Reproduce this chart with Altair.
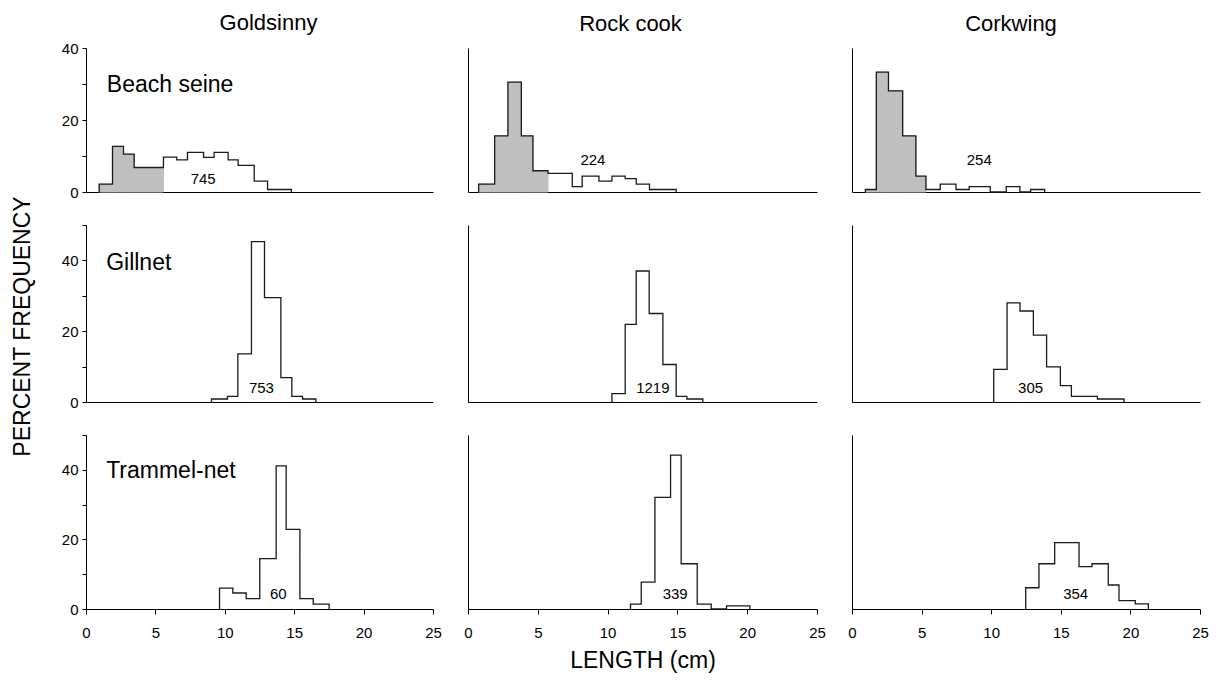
import altair as alt
import pandas as pd

species = ["Goldsinny", "Rock cook", "Corkwing"]
gears = ["Beach seine", "Gillnet", "Trammel-net"]

# ---- bin edges (cm) and percent frequency ----
gs_beach_edges = [0.95, 1.91, 2.70, 3.47, 5.58, 6.54, 7.31, 8.47, 9.23, 10.24, 10.96, 12.12, 13.08, 14.04, 14.80]
gs_beach_pct = [2.2, 12.7, 10.5, 6.8, 9.7, 8.9, 11.0, 9.6, 11.0, 8.9, 7.4, 3.0, 0.7, 0.7]
rc_beach_edges = [0.76, 1.91, 2.86, 3.82, 4.65, 5.73, 6.49, 7.47, 8.18, 9.38, 10.31, 11.26, 12.05, 13.00, 13.96, 14.91]
rc_beach_pct = [2.2, 15.6, 30.5, 15.6, 5.9, 5.2, 5.2, 1.5, 4.4, 3.0, 4.4, 3.7, 2.2, 0.7, 0.7]
cw_beach_edges = [0.96, 1.75, 2.62, 3.64, 4.59, 5.31, 6.34, 7.47, 8.42, 9.93, 11.08, 12.06, 12.83, 13.84]
cw_beach_pct = [0.7, 33.3, 28.1, 15.6, 4.4, 0.7, 2.2, 0.7, 1.5, 0.0, 1.5, 0.0, 0.7]

gs_gill_edges = [9.04, 10.19, 10.94, 11.92, 12.86, 14.04, 14.83, 15.60, 16.56]
gs_gill_pct = [0.85, 1.6, 13.6, 45.3, 29.5, 6.9, 1.6, 0.85]
rc_gill_edges = [10.31, 11.26, 12.05, 12.98, 13.96, 14.91, 15.68, 16.82]
rc_gill_pct = [2.35, 21.9, 37.0, 25.0, 10.6, 1.6, 0.85]
cw_gill_edges = [10.18, 11.14, 12.07, 13.03, 13.98, 14.97, 15.76, 16.72, 17.63, 18.58, 19.54]
cw_gill_pct = [9.2, 28.0, 25.7, 18.9, 9.9, 4.6, 1.6, 1.6, 0.85, 0.85]

gs_tram_edges = [9.62, 10.58, 11.54, 12.52, 13.70, 14.42, 15.41, 16.37, 17.52]
gs_tram_pct = [6.0, 4.6, 3.0, 14.5, 41.1, 22.9, 3.0, 1.4]
rc_tram_edges = [11.64, 12.41, 13.39, 14.51, 15.27, 16.42, 17.42, 18.52, 20.19]
rc_tram_pct = [1.4, 7.7, 32.1, 44.2, 13.0, 1.4, 0.0, 0.9]
cw_tram_edges = [12.48, 13.43, 14.56, 15.52, 16.31, 17.24, 18.41, 19.18, 20.35, 21.29]
cw_tram_pct = [6.1, 13.0, 19.1, 19.1, 12.2, 13.0, 6.9, 2.4, 1.5]

# number of fish measured, and where the count is written (cm, %)
n_fish = [[745, 224, 254], [753, 1219, 305], [60, 339, 354]]
n_x = [[8.44, 8.95, 9.14], [12.64, 13.24, 12.83], [13.85, 14.84, 16.07]]
n_y = [[3.6, 9.0, 9.0], [3.95, 3.95, 3.95], [4.3, 4.3, 4.3]]

# gear label position (cm, %)
gear_x = [1.5, 1.45, 1.45]
gear_y = [29.8, 39.2, 39.7]

# number of leading bins shaded grey (0-group)
grey_bins = [[4, 5, 5], [0, 0, 0], [0, 0, 0]]

y_max = [40, 50, 50]
x_ticks = [0, 5, 10, 15, 20, 25]

EDGES = [[gs_beach_edges, rc_beach_edges, cw_beach_edges],
         [gs_gill_edges, rc_gill_edges, cw_gill_edges],
         [gs_tram_edges, rc_tram_edges, cw_tram_edges]]
PCT = [[gs_beach_pct, rc_beach_pct, cw_beach_pct],
       [gs_gill_pct, rc_gill_pct, cw_gill_pct],
       [gs_tram_pct, rc_tram_pct, cw_tram_pct]]

FONT = "Liberation Sans"
widths = [347, 349, 348]
heights = [144, 177, 174]
title_offset = [6, 12, 12]
title_dx = [9, -12, -15]


def x_enc(field, r, c):
    if r == 2:
        ax = alt.Axis(values=x_ticks, tickSize=5, labelPadding=11, labelFontSize=15,
                      labelFlush=False,
                      labelColor="black", domainColor="black", tickColor="black",
                      grid=False, titleFontSize=23, titleFontWeight="normal",
                      titleColor="black", titlePadding=9)
    else:
        ax = alt.Axis(labels=False, ticks=False, grid=False, domainColor="black")
    title = "LENGTH (cm)" if (r == 2 and c == 1) else None
    return alt.X(field, scale=alt.Scale(domain=[0, 25], nice=False, zero=False), axis=ax, title=title)


def y_enc(field, r, c):
    if c == 0:
        ax = alt.Axis(values=list(range(0, y_max[r] + 1, 10)),
                      labelExpr="datum.value % 20 === 0 ? datum.label : ''",
                      tickSize=4, labelPadding=4, labelFontSize=15, labelColor="black",
                      domainColor="black", tickColor="black", grid=False,
                      titleFontSize=23, titleFontWeight="normal", titleColor="black",
                      titlePadding=27, titleY=101)
    else:
        ax = alt.Axis(labels=False, ticks=False, grid=False, domainColor="black")
    title = "PERCENT FREQUENCY" if (r == 1 and c == 0) else None
    return alt.Y(field, scale=alt.Scale(domain=[0, y_max[r]], nice=False), axis=ax, title=title)


def panel(r, c):
    edges, pct = EDGES[r][c], PCT[r][c]
    bins = pd.DataFrame({"lo": edges[:-1], "hi": edges[1:], "pct": pct})
    xs, ys = [edges[0]], [0.0]
    for i, v in enumerate(pct):
        xs += [edges[i], edges[i + 1]]
        ys += [v, v]
    xs.append(edges[-1])
    ys.append(0.0)
    outline = pd.DataFrame({"x": xs, "y": ys, "o": list(range(len(xs)))})

    layers = []
    k = grey_bins[r][c]
    if k > 0:
        layers.append(
            alt.Chart(bins.iloc[:k]).mark_rect(color="#c0c0c0", stroke="#c0c0c0", strokeWidth=1).encode(
                x=x_enc("lo:Q", r, c), x2="hi:Q",
                y=y_enc("pct:Q", r, c), y2=alt.datum(0))
        )
    layers.append(
        alt.Chart(outline).mark_line(color="#1a1a1a", strokeWidth=1.3).encode(
            x=x_enc("x:Q", r, c), y=y_enc("y:Q", r, c), order="o:Q")
    )
    ndf = pd.DataFrame({"x": [n_x[r][c]], "y": [n_y[r][c]], "t": [str(n_fish[r][c])]})
    layers.append(
        alt.Chart(ndf).mark_text(fontSize=15, font=FONT, color="black", baseline="middle").encode(
            x=x_enc("x:Q", r, c), y=y_enc("y:Q", r, c), text="t:N")
    )
    if c == 0:
        gdf = pd.DataFrame({"x": [gear_x[r]], "y": [gear_y[r]], "t": [gears[r]]})
        layers.append(
            alt.Chart(gdf).mark_text(fontSize=23, font=FONT, color="black", align="left",
                                     baseline="middle").encode(
                x=x_enc("x:Q", r, c), y=y_enc("y:Q", r, c), text="t:N")
        )
    ch = alt.layer(*layers).properties(width=widths[c], height=heights[r])
    if r == 0:
        ch = ch.properties(title=alt.TitleParams(species[c], fontSize=22, fontWeight="normal",
                                                 font=FONT, color="black",
                                                 offset=title_offset[c], dx=title_dx[c],
                                                 anchor="middle", frame="group"))
    return ch


panels = [panel(r, c) for r in range(3) for c in range(3)]
chart = alt.concat(*panels, columns=3, bounds="flush", align="each",
                   spacing={"row": 33, "column": 35}).properties(
    padding={"left": 11, "top": 12, "right": 5, "bottom": 5}
).configure(font=FONT).configure_view(stroke=None)

chart.save("out.html", embed_options={"renderer": "svg", "actions": False})
